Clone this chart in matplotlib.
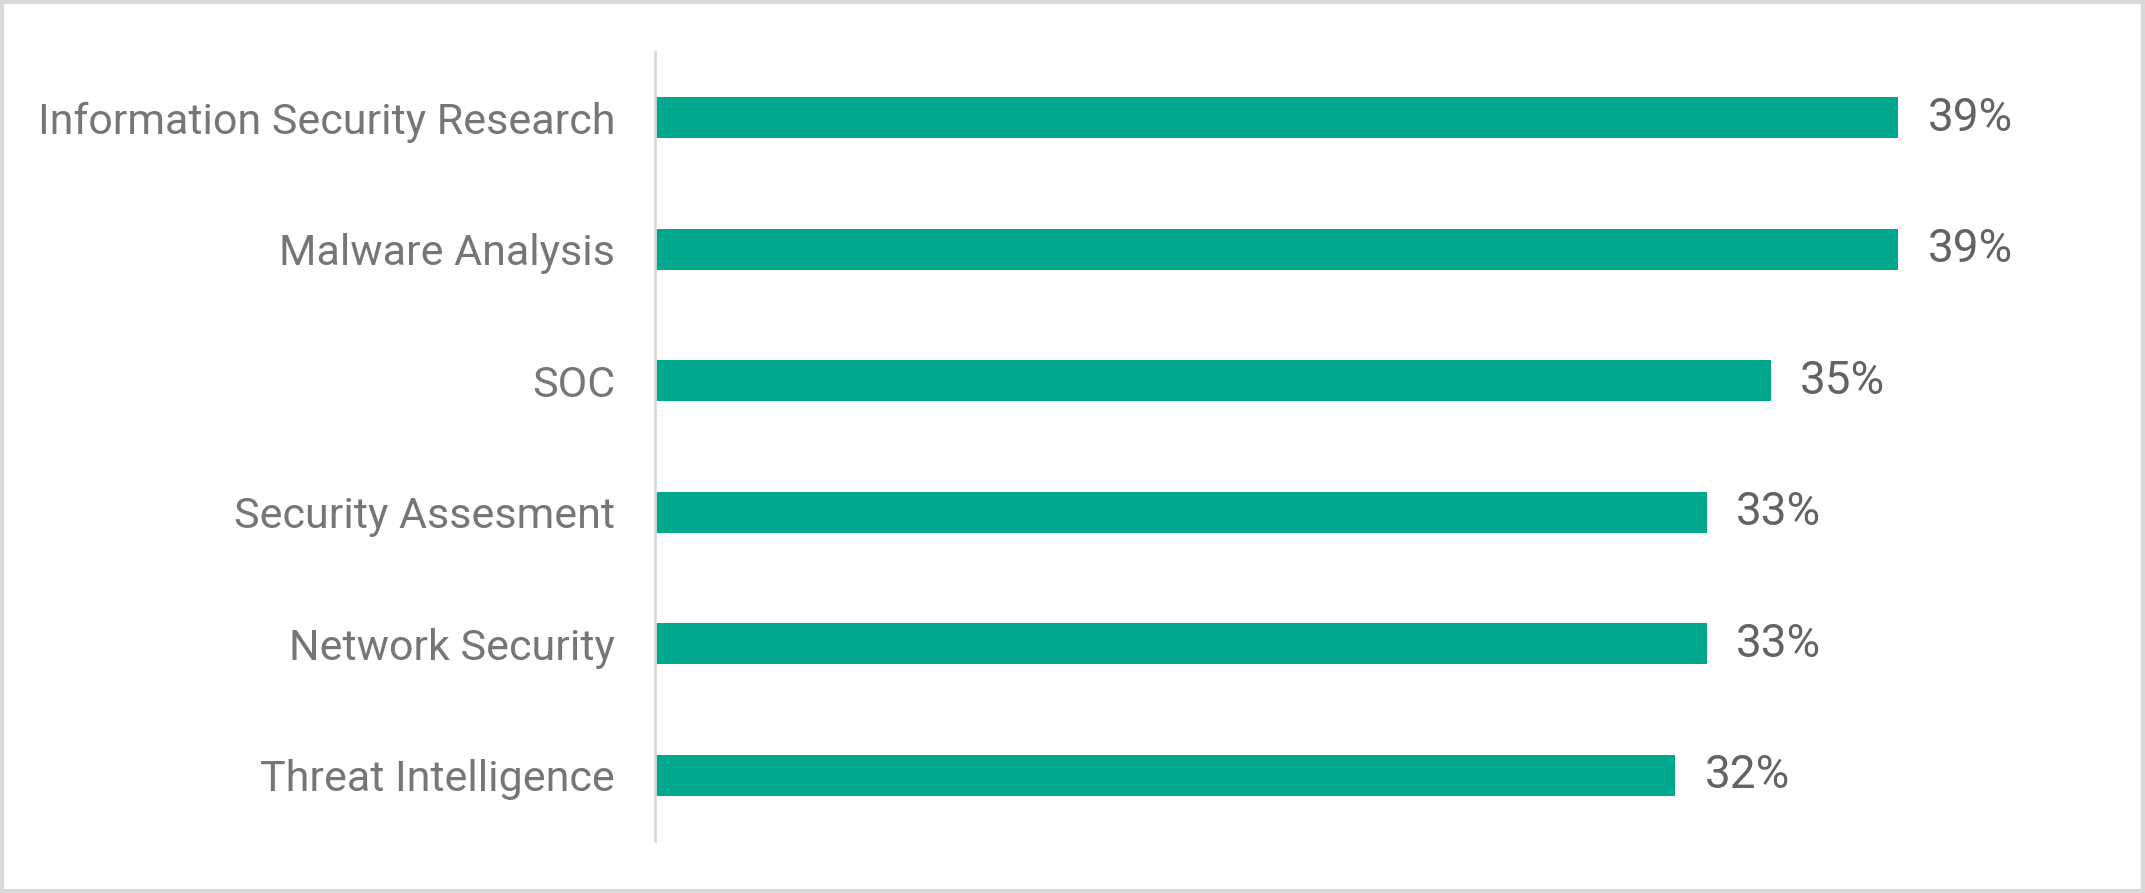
import matplotlib
matplotlib.use("Agg")
import matplotlib.pyplot as plt
from matplotlib.patches import Rectangle

categories = ["Information Security Research", "Malware Analysis", "SOC",
              "Security Assesment", "Network Security", "Threat Intelligence"]
values = [39, 39, 35, 33, 33, 32]
value_labels = ["39%", "39%", "35%", "33%", "33%", "32%"]

plt.rcParams['font.family'] = ['Roboto', 'DejaVu Sans']

fig = plt.figure(figsize=(21.45, 8.93), dpi=100)
ax = fig.add_axes([0.3055, 0.058, 0.6687, 0.884])

ypos = list(range(len(categories)))[::-1]
ax.barh(ypos, values, height=0.31, color="#00A88E", left=0)
ax.set_xlim(0, 45)
ax.set_ylim(-0.5, 5.5)
ax.set_yticks(ypos)
ax.set_yticklabels(categories, fontsize=31, color="#767676")
ax.tick_params(axis='y', length=0, pad=29)
ax.set_xticks([])
for s in ["top", "right", "bottom"]:
    ax.spines[s].set_visible(False)
ax.spines["left"].set_color("#d9d9d9")
ax.spines["left"].set_linewidth(2)

for y, v, t in zip(ypos, values, value_labels):
    ax.annotate(t, xy=(v, y), xytext=(21, 0), textcoords="offset points",
                va="center", ha="left", fontsize=33, color="#636363")

fig.patches.append(Rectangle((0.001, 0.002), 0.998, 0.996, transform=fig.transFigure,
                             fill=False, edgecolor="#d9d9d9", linewidth=3))

fig.savefig("out.png", dpi=100, facecolor="white")
